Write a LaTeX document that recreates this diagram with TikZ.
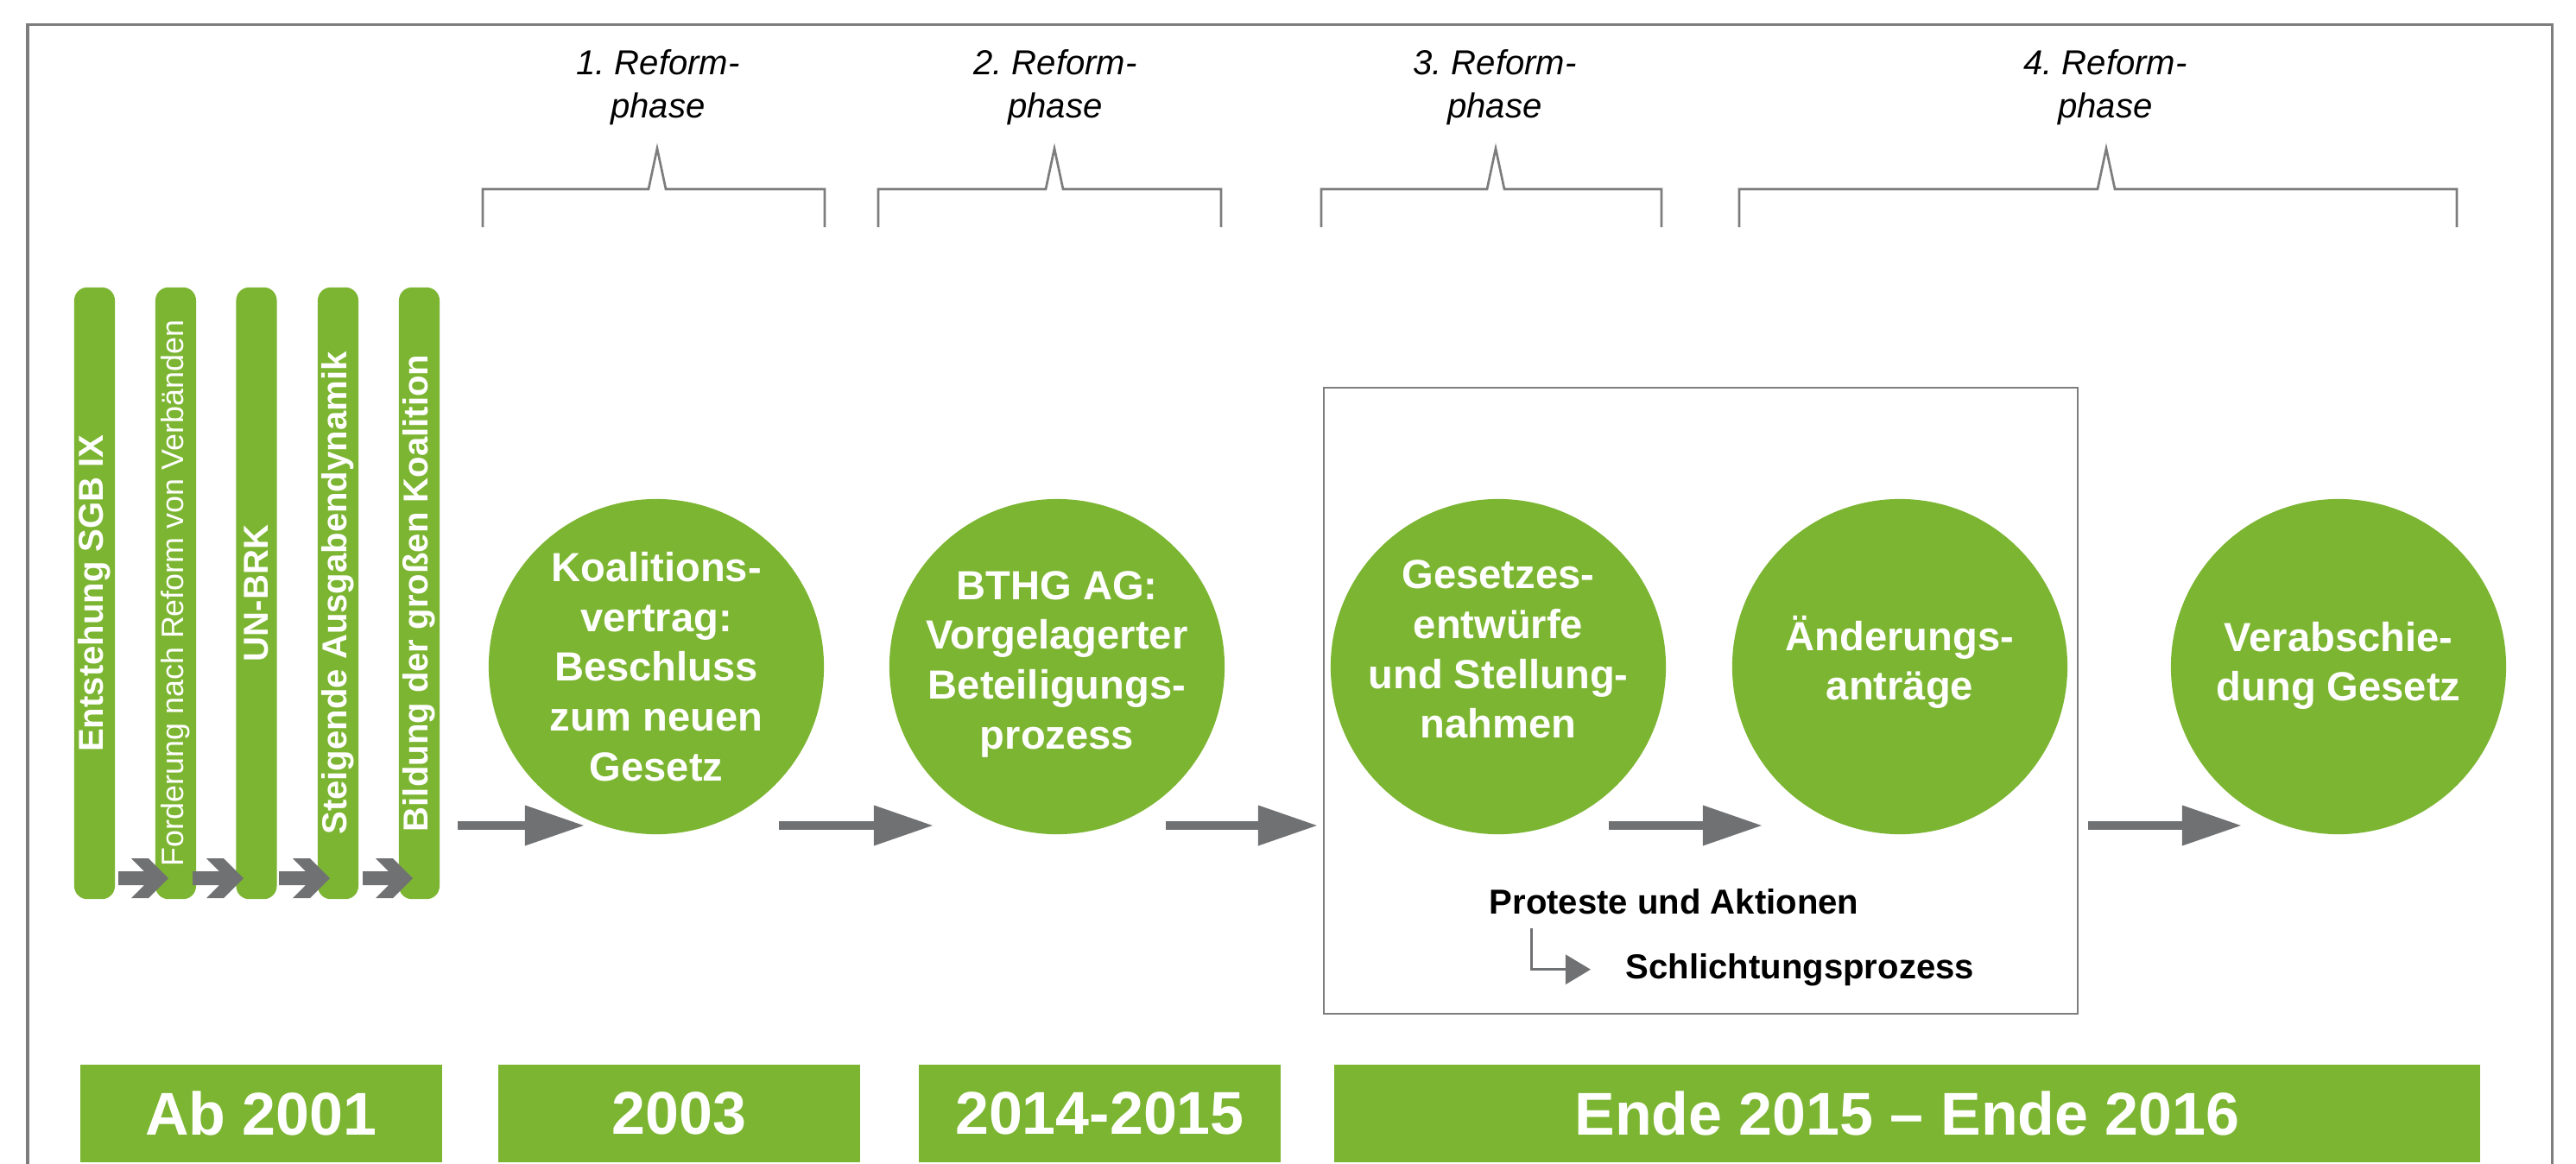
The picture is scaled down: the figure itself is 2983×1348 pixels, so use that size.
\documentclass[tikz,border=0pt]{standalone}
\usepackage{fontspec}
\setmainfont{Liberation Sans}
\usetikzlibrary{arrows.meta}
\definecolor{kgreen}{RGB}{124,181,50}
\definecolor{kgray}{RGB}{112,113,115}
\definecolor{lgray}{RGB}{125,125,125}
\frenchspacing
\newcommand\reformbracket[3]{\draw[brack] (#1,263) -- (#1,219) -- ({#2-10},219) -- (#2,172) -- ({#2+10},219) -- (#3,219) -- (#3,263);}
\newcommand\smallchevron[2]{\fill[kgray] (#1,1009) -- ({#2-28},1009) -- ({#2-43},994) -- ({#2-23},994) -- (#2,1017) -- ({#2-23},1040) -- ({#2-43},1040) -- ({#2-28},1025) -- (#1,1025) -- cycle;}
\begin{document}
\begin{tikzpicture}[x=0.01cm,y=-0.01cm,
  frame/.style={draw=lgray, line width=0.03cm},
  brack/.style={draw=lgray, line width=0.027cm},
  barbox/.style={fill=kgreen, rounded corners=0.15cm, rotate=90, minimum width=7.08cm, minimum height=0.47cm, inner sep=0pt, text=white, font=\bfseries\fontsize{11.4}{13}\selectfont},
  circ/.style={circle, fill=kgreen, minimum size=3.88cm, inner sep=0pt},
  ctext/.style={text=white, align=center, font=\bfseries\fontsize{13.4}{16.4}\selectfont, inner sep=0pt},
  yearbox/.style={fill=kgreen, minimum height=1.13cm, inner sep=0pt, text=white, font=\bfseries\fontsize{19.9}{24}\selectfont},
  reform/.style={align=center, font=\itshape\fontsize{11.4}{14.2}\selectfont, inner sep=0pt},
  bigarrow/.style={draw=kgray, line width=0.1cm, -{Triangle[length=0.69cm, width=0.44cm]}},
  elbow/.style={draw=kgray, line width=0.03cm, -{Triangle[length=0.29cm, width=0.34cm]}},
  plain/.style={inner sep=0pt, font=\bfseries\fontsize{11.4}{13}\selectfont}
]
\useasboundingbox (0,0) rectangle (2983,1348);
\fill[white] (0,0) rectangle (2983,1348);
% outer frame
\draw[frame] (32,1348) -- (32,28) -- (2955,28) -- (2955,1348);

% reform phases
\reformbracket{559}{761}{955}
\reformbracket{1017}{1221}{1414}
\reformbracket{1530}{1732}{1924}
\reformbracket{2014}{2439}{2845}
\node[reform] (r1) at (762,101) {1. Reform-\\phase};
\node[reform] (r2) at (1222,101) {2. Reform-\\phase};
\node[reform] (r3) at (1731,101) {3. Reform-\\phase};
\node[reform] (r4) at (2438,101) {4. Reform-\\phase};

% vertical bars
\node[barbox] (b1) at (109.5,687) {Entstehung SGB IX};
\node[barbox, font=\fontsize{10.2}{12}\selectfont] (b2) at (203.5,687) {Forderung nach Reform von Verbänden};
\node[barbox] (b3) at (297,687) {UN-BRK};
\node[barbox] (b4) at (391.5,687) {Steigende Ausgabendynamik};
\node[barbox] (b5) at (485.5,687) {Bildung der großen Koalition};
\smallchevron{137}{195}
\smallchevron{223}{282}
\smallchevron{323}{382}
\smallchevron{420}{478}

% group box
\node[draw=lgray, line width=0.02cm, minimum width=8.73cm, minimum height=7.25cm, inner sep=0pt] (grp) at (1969.5,811.5) {};

% circles
\node[circ] (c1) at (760,772) {};
\node[circ] (c2) at (1224,772) {};
\node[circ] (c3) at (1735,772) {};
\node[circ] (c4) at (2200,772) {};
\node[circ] (c5) at (2708,772) {};
\node[ctext] (t1) at (760,772) {Koalitions-\\vertrag:\\Beschluss\\zum neuen\\Gesetz};
\node[ctext] (t2) at (1224,769) {BTHG AG:\\Vorgelagerter\\Beteiligungs-\\prozess};
\node[ctext] (t3) at (1735,752) {Gesetzes-\\entwürfe\\und Stellung-\\nahmen};
\node[ctext] (t4) at (2200,767) {Änderungs-\\anträge};
\node[ctext] (t5) at (2708,771) {Verabschie-\\dung Gesetz};

% big arrows
\coordinate (a1s) at (530,956); \coordinate (a1e) at (677,956);
\coordinate (a2s) at (902,956); \coordinate (a2e) at (1081,956);
\coordinate (a3s) at (1350,956); \coordinate (a3e) at (1526,956);
\coordinate (a4s) at (1863,956); \coordinate (a4e) at (2041,956);
\coordinate (a5s) at (2418,956); \coordinate (a5e) at (2596,956);
\draw[bigarrow] (a1s) -- (a1e);
\draw[bigarrow] (a2s) -- (a2e);
\draw[bigarrow] (a3s) -- (a3e);
\draw[bigarrow] (a4s) -- (a4e);
\draw[bigarrow] (a5s) -- (a5e);

% protests
\node[plain, anchor=base west] (pro) at (1724,1058) {Proteste und Aktionen};
\node[plain, anchor=base west] (sch) at (1882,1133) {Schlichtungsprozess};
\coordinate (e1) at (1773,1075);
\draw[elbow] (e1) |- ([xshift=-0.4cm]sch.west);

% year boxes
\node[yearbox, minimum width=4.19cm] (y1) at (302.5,1289.5) {Ab 2001};
\node[yearbox, minimum width=4.19cm] (y2) at (786.5,1289.5) {2003};
\node[yearbox, minimum width=4.19cm] (y3) at (1273.5,1289.5) {2014-2015};
\node[yearbox, minimum width=13.27cm] (y4) at (2208.5,1289.5) {Ende 2015 – Ende 2016};
\end{tikzpicture}
\end{document}
